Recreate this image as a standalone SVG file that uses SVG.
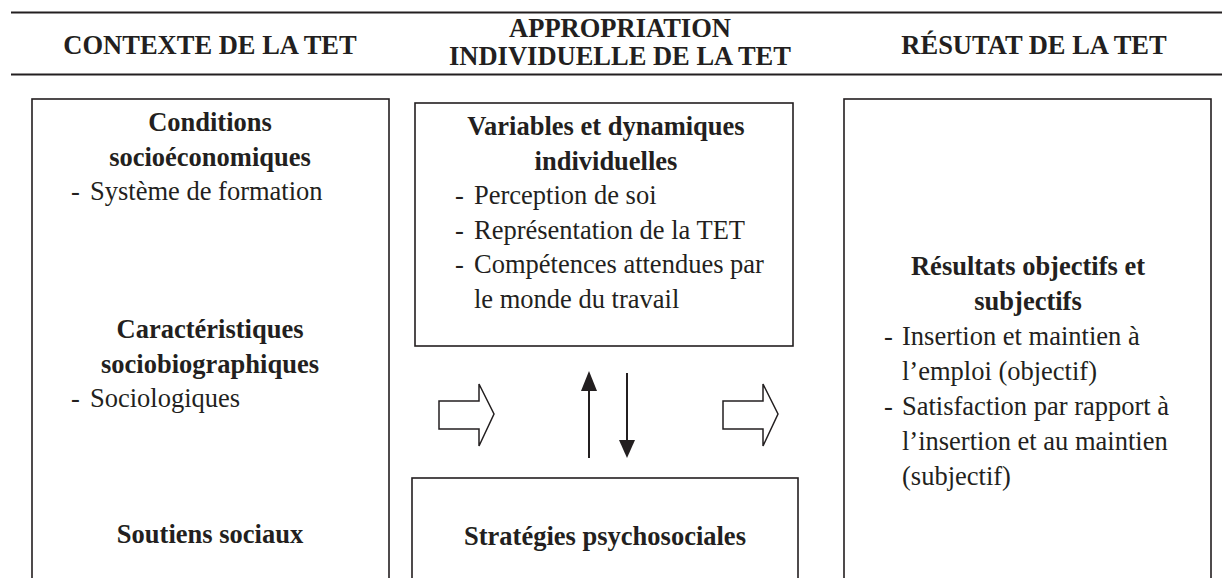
<svg xmlns="http://www.w3.org/2000/svg" width="1222" height="578" viewBox="0 0 1222 578">
<style>
text{font-family:"Liberation Serif","Times New Roman",serif;font-size:26.5px;fill:#231f20}
.b{font-weight:bold}
.c{text-anchor:middle}
.box{fill:none;stroke:#231f20;stroke-width:1.6}
.rule{stroke:#231f20;stroke-width:2.2}
.ha{fill:#fff;stroke:#231f20;stroke-width:1.5;stroke-linejoin:miter}
.ln{stroke:#231f20;stroke-width:2}
.hd{fill:#231f20}
</style>
<rect width="1222" height="578" fill="#fff"/>
<g id="header">
<line class="rule" x1="11" y1="12.5" x2="1222" y2="12.5"/>
<line class="rule" x1="11" y1="74.5" x2="1222" y2="74.5"/>
<text class="b c" x="210" y="54">CONTEXTE DE LA TET</text>
<text class="b c" x="620" y="37">APPROPRIATION</text>
<text class="b c" x="620" y="65">INDIVIDUELLE DE LA TET</text>
<text class="b c" x="1034" y="54">RÉSUTAT DE LA TET</text>
</g>
<g id="contexte">
<rect class="box" x="32" y="99" width="357" height="490"/>
<text class="b c" x="210" y="131">Conditions</text>
<text class="b c" x="210" y="165.5">socioéconomiques</text>
<text x="71" y="200">-</text><text x="90" y="200">Système de formation</text>
<text class="b c" x="210" y="338">Caractéristiques</text>
<text class="b c" x="210" y="372.5">sociobiographiques</text>
<text x="71" y="407">-</text><text x="90" y="407">Sociologiques</text>
<text class="b c" x="210" y="543">Soutiens sociaux</text>
</g>
<g id="variables">
<rect class="box" x="415" y="103" width="378" height="243"/>
<text class="b c" x="606" y="135">Variables et dynamiques</text>
<text class="b c" x="606" y="169.5">individuelles</text>
<text x="455" y="204">-</text><text x="474" y="204">Perception de soi</text>
<text x="455" y="238.5">-</text><text x="474" y="238.5">Représentation de la TET</text>
<text x="455" y="273">-</text><text x="474" y="273">Compétences attendues par</text>
<text x="474" y="307.5">le monde du travail</text>
</g>
<g id="strategies">
<rect class="box" x="412" y="478" width="386" height="120"/>
<text class="b c" x="605" y="545">Stratégies psychosociales</text>
</g>
<g id="resultat">
<rect class="box" x="844" y="99" width="367" height="490"/>
<text class="b c" x="1028" y="275">Résultats objectifs et</text>
<text class="b c" x="1028" y="310">subjectifs</text>
<text x="884" y="345">-</text><text x="902" y="345">Insertion et maintien à</text>
<text x="902" y="380">l’emploi (objectif)</text>
<text x="884" y="415">-</text><text x="902" y="415">Satisfaction par rapport à</text>
<text x="902" y="450">l’insertion et au maintien</text>
<text x="902" y="485">(subjectif)</text>
</g>
<g id="connectors">
<polygon class="ha" points="439,401 479,401 479,384 494,414 479,446 479,429 439,429"/>
<polygon class="ha" points="723,401 763,401 763,384 778,414 763,446 763,429 723,429"/>
<line class="ln" x1="589" y1="458" x2="589" y2="389"/>
<polygon class="hd" points="581,391 597,391 589,371"/>
<line class="ln" x1="627" y1="373" x2="627" y2="442"/>
<polygon class="hd" points="619,440 635,440 627,458"/>
</g>
</svg>
